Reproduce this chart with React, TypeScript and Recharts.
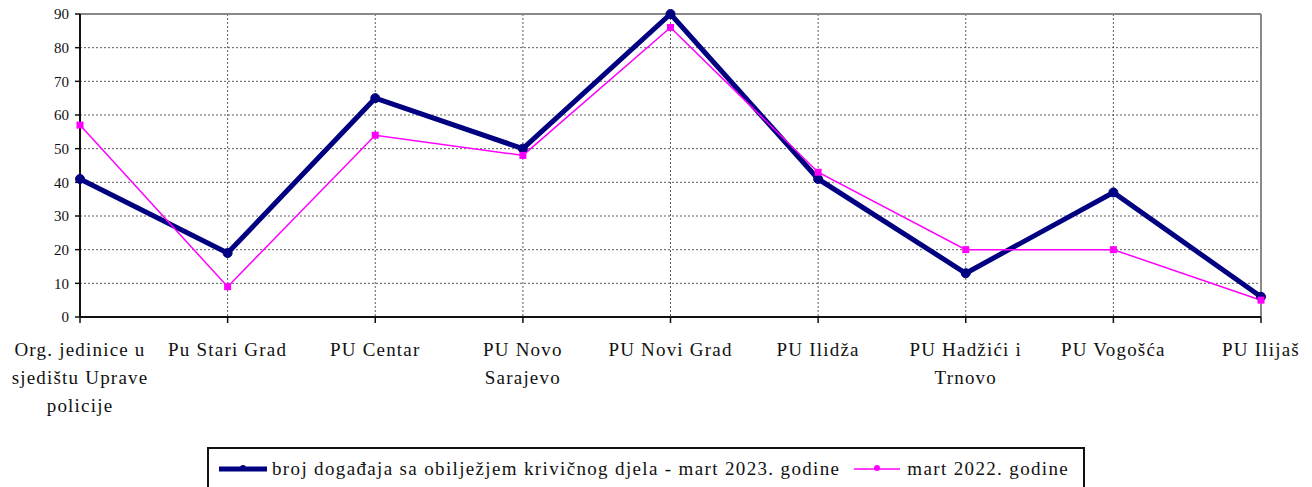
import React from 'react';
import {
    LineChart,
    Line,
    XAxis,
    YAxis,
    CartesianGrid,
    Legend,
    ReferenceLine
} from 'recharts';

// Police units (line breaks as in the original labels)
const categories = [
    'Org. jedinice u\nsjedištu Uprave\npolicije',
    'Pu Stari Grad',
    'PU Centar',
    'PU Novo\nSarajevo',
    'PU Novi Grad',
    'PU Ilidža',
    'PU Hadžići i\nTrnovo',
    'PU Vogošća',
    'PU Ilijaš'
];

const march2023 = [41, 19, 65, 50, 90, 41, 13, 37, 6];
const march2022 = [57, 9, 54, 48, 86, 43, 20, 20, 5];

const seriesNames = [
    'broj događaja sa obilježjem krivičnog djela - mart 2023. godine',
    'mart 2022. godine'
];

const yTicks = [0, 10, 20, 30, 40, 50, 60, 70, 80, 90];

const FONT = 'Liberation Serif, DejaVu Serif, serif';
const DARK = '#000080';
const PINK = '#FF00FF';

const chartData = categories.map((name, i) => ({
    name,
    m2023: march2023[i],
    m2022: march2022[i]
}));

const CategoryTick = (props: any) => {
    const { x, y, payload } = props;
    const lines = String(payload.value).split('\n');
    return (
        <text
            x={x}
            y={y + 31}
            textAnchor="middle"
            fill="#111"
            style={{ fontFamily: FONT, fontSize: 19, letterSpacing: 1.2 }}
        >
            {lines.map((line: string, i: number) => (
                <tspan key={i} x={x} dy={i === 0 ? 0 : 28}>
                    {line}
                </tspan>
            ))}
        </text>
    );
};

const SquareDot = (props: any) => {
    const { cx, cy } = props;
    if (cx == null || cy == null) return null;
    return <rect x={cx - 3.5} y={cy - 3.5} width={7} height={7} fill={PINK} />;
};

const LegendBox = () => (
    <div
        style={{
            display: 'flex',
            alignItems: 'center',
            height: '100%',
            fontFamily: FONT,
            fontSize: 19,
            letterSpacing: 1.35,
            color: '#111',
            whiteSpace: 'nowrap'
        }}
    >
        <svg width={52} height={20} style={{ marginLeft: 8 }}>
            <line x1={2} y1={10} x2={50} y2={10} stroke={DARK} strokeWidth={5} />
            <circle cx={26} cy={9} r={3} fill={DARK} />
        </svg>
        <span style={{ marginLeft: 3 }}>{seriesNames[0]}</span>
        <svg width={50} height={20} style={{ marginLeft: 12 }}>
            <line x1={2} y1={10} x2={48} y2={10} stroke={PINK} strokeWidth={1.5} />
            <circle cx={25} cy={9} r={3} fill={PINK} />
        </svg>
        <span style={{ marginLeft: 5 }}>{seriesNames[1]}</span>
    </div>
);

const App = () => {
    return (
        <div style={{ position: 'absolute', left: 0, top: 0, background: '#fff' }}>
            <LineChart
                width={1312}
                height={487}
                data={chartData}
                margin={{ top: 14, right: 51, left: 0, bottom: 0 }}
                style={{ fontFamily: FONT }}
            >
                <CartesianGrid stroke="#333" strokeDasharray="2 2" strokeWidth={0.8} />
                <XAxis
                    dataKey="name"
                    height={170}
                    interval={0}
                    tick={<CategoryTick />}
                    tickSize={6}
                    axisLine={{ stroke: '#111', strokeWidth: 2 }}
                    tickLine={{ stroke: '#111', strokeWidth: 1.5 }}
                />
                <YAxis
                    width={80}
                    domain={[0, 90]}
                    ticks={yTicks}
                    interval={0}
                    tickSize={5}
                    tickMargin={6}
                    axisLine={{ stroke: '#111', strokeWidth: 2 }}
                    tickLine={{ stroke: '#111', strokeWidth: 1.5 }}
                    tick={{ fill: '#111', fontSize: 15, style: { fontFamily: FONT } }}
                />
                <ReferenceLine y={90} stroke="#888" strokeWidth={2} />
                <ReferenceLine x={categories[categories.length - 1]} stroke="#888" strokeWidth={2} />
                <Legend
                    verticalAlign="middle"
                    align="center"
                    content={<LegendBox />}
                    wrapperStyle={{
                        left: 207,
                        top: 447,
                        width: 878,
                        height: 44,
                        border: '2px solid #111',
                        boxSizing: 'border-box',
                        background: '#fff'
                    }}
                />
                <Line
                    type="linear"
                    dataKey="m2023"
                    name={seriesNames[0]}
                    stroke={DARK}
                    strokeWidth={5}
                    dot={{ r: 4.5, fill: DARK, stroke: DARK, strokeWidth: 1 }}
                    activeDot={false}
                    isAnimationActive={false}
                />
                <Line
                    type="linear"
                    dataKey="m2022"
                    name={seriesNames[1]}
                    stroke={PINK}
                    strokeWidth={1.5}
                    dot={<SquareDot />}
                    activeDot={false}
                    isAnimationActive={false}
                />
            </LineChart>
        </div>
    );
};

export default App;
